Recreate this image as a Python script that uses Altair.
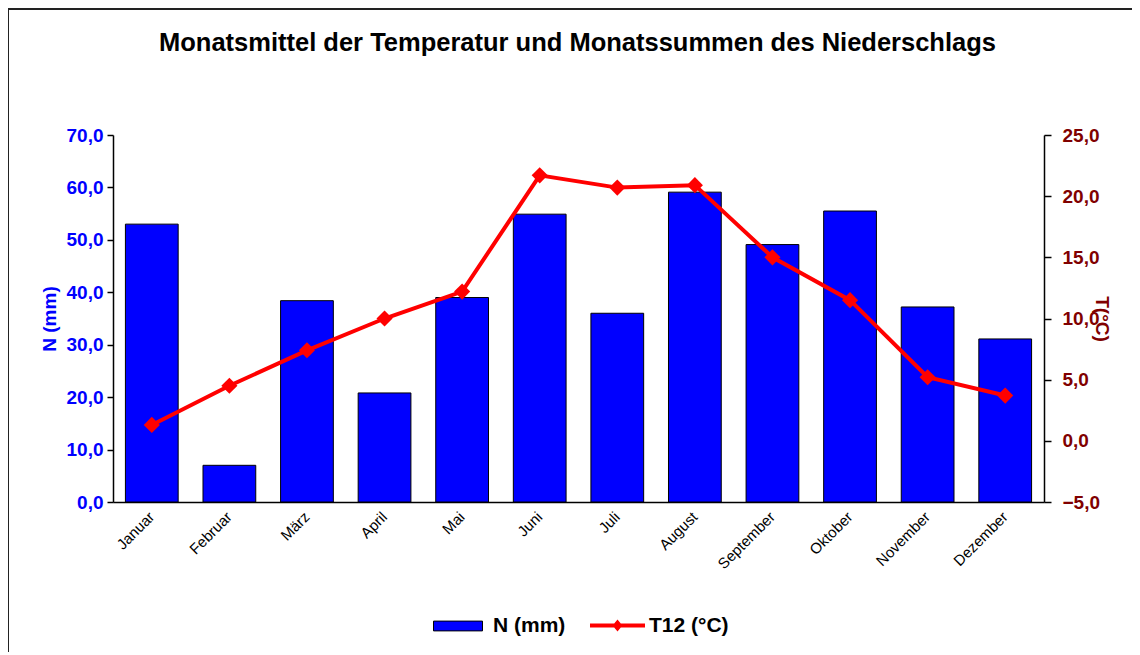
import altair as alt
import pandas as pd

months = ["Januar", "Februar", "März", "April", "Mai", "Juni", "Juli",
          "August", "September", "Oktober", "November", "Dezember"]
precip = [53.0, 7.0, 38.4, 20.8, 39.0, 54.9, 36.0, 59.1, 49.1, 55.5, 37.2, 31.1]
temp = [1.3, 4.5, 7.4, 10.0, 12.2, 21.7, 20.7, 20.9, 15.0, 11.5, 5.2, 3.7]

title_text = "Monatsmittel  der Temperatur und Monatssummen des Niederschlags"
n_label = "N (mm)"
t_label = "T12 (°C)"

df = pd.DataFrame({"Monat": months, "N": precip, "T": temp})
df["sN"] = n_label
df["sT"] = t_label

FONT = "Liberation Sans"
W, H = 931, 367
fmt = "replace(format(datum.value, '.1f'), '.', ',')"

xenc = alt.X("Monat:N", sort=months, title=None,
             scale=alt.Scale(paddingInner=0.32, paddingOuter=0.16),
             axis=alt.Axis(labelAngle=-45, labelAlign="right", labelBaseline="middle",
                           labelPadding=12, ticks=False, domainColor="black",
                           domainWidth=1.5, labelFont=FONT, labelFontSize=15,
                           labelColor="black"))

bars = alt.Chart(df).mark_bar(stroke="black", strokeWidth=1).encode(
    x=xenc,
    y=alt.Y("N:Q", scale=alt.Scale(domain=[0, 70], nice=False),
            axis=alt.Axis(values=[0, 10, 20, 30, 40, 50, 60, 70], labelExpr=fmt,
                          orient="left", grid=False, tickSize=6, tickColor="black",
                          domainColor="black", domainWidth=1.5, tickWidth=1.5,
                          labelPadding=4, labelFont=FONT, labelFontSize=19,
                          labelFontWeight="bold", labelColor="#0000FF",
                          title=n_label, titleFont=FONT, titleFontSize=19,
                          titleFontWeight="bold", titleColor="#0000FF",
                          titleX=-64, titleY=H / 2, titleAngle=-90,
                          titleAlign="center", titleBaseline="middle")),
    color=alt.Color("sN:N", scale=alt.Scale(domain=[n_label], range=["#0000FF"]),
                    legend=alt.Legend(title=None, orient="none", legendX=320, legendY=466,
                                      symbolType="M-1,-0.2H1V0.2H-1Z", symbolSize=2401,
                                      symbolStrokeColor="black", symbolStrokeWidth=1,
                                      labelOffset=10, labelFont=FONT, labelFontSize=21,
                                      labelFontWeight="bold", labelColor="black",
                                      padding=0)),
)

yT = alt.Y("T:Q", scale=alt.Scale(domain=[-5, 25], nice=False),
           axis=alt.Axis(values=[-5, 0, 5, 10, 15, 20, 25], labelExpr=fmt,
                         orient="right", grid=False, tickSize=7, tickColor="black",
                         domainColor="black", domainWidth=1.5, tickWidth=1.5,
                         labelPadding=11, labelFont=FONT, labelFontSize=19,
                         labelFontWeight="bold", labelColor="#800000",
                         title="T(°C)", titleFont=FONT, titleFontSize=19,
                         titleFontWeight="bold", titleColor="#800000",
                         titleX=57, titleY=H / 2, titleAngle=90,
                         titleAlign="center", titleBaseline="middle"))

line = alt.Chart(df).mark_line(color="#FF0000", strokeWidth=4).encode(
    x=alt.X("Monat:N", sort=months), y=yT)

points = alt.Chart(df).mark_point(shape="diamond", filled=True, size=260, opacity=1).encode(
    x=alt.X("Monat:N", sort=months), y=yT,
    color=alt.Color("sT:N", scale=alt.Scale(domain=[t_label], range=["#FF0000"]),
                    legend=alt.Legend(title=None, orient="none", legendX=477, legendY=463,
                                      symbolType="M-1,-0.073H1V0.073H-1Z M0,-0.22L0.18,0L0,0.22L-0.18,0Z",
                                      symbolSize=3025, symbolStrokeWidth=0,
                                      symbolFillColor="#FF0000",
                                      labelOffset=4, labelFont=FONT, labelFontSize=21,
                                      labelFontWeight="bold", labelColor="black",
                                      padding=0)),
)

temp_layer = alt.layer(line, points)

frame = alt.Chart(pd.DataFrame({"a": [0]})).mark_rect(
    fill="white", fillOpacity=0, stroke="#222222", strokeWidth=2).encode(
    x=alt.value(-105), x2=alt.value(W + 200), y=alt.value(-126), y2=alt.value(H + 300))

title = alt.Chart(pd.DataFrame({"a": [0]})).mark_text(
    font=FONT, fontSize=25.5, fontWeight="bold", color="black",
    align="center", baseline="alphabetic").encode(
    x=alt.value(W / 2 - 1), y=alt.value(-84), text=alt.value(title_text))

chart = alt.layer(frame, bars, temp_layer, title).resolve_scale(
    y="independent", color="independent"
).properties(
    width=W, height=H,
    autosize=alt.AutoSizeParams(type="none"),
    padding={"left": 105, "top": 127, "right": 88, "bottom": 150},
    background="white",
).configure_view(stroke=None)

chart.save("out.html", embed_options={"renderer": "svg", "actions": False})
